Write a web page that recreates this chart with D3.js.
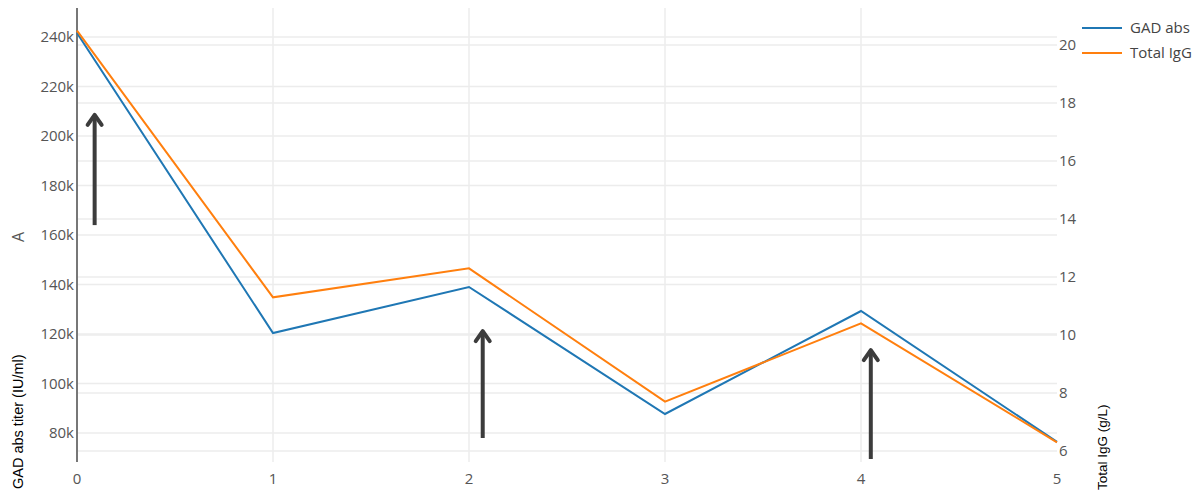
<!DOCTYPE html>
<html>
<head>
<meta charset="utf-8">
<script src="https://cdn.jsdelivr.net/npm/d3@7"></script>
<style>
  body { margin: 0; background: #fff; }
  text { font-family: "Open Sans", sans-serif; }
</style>
</head>
<body>
<svg id="chart" width="1203" height="493"></svg>
<script>
// Data
const timepoints = [0, 1, 2, 3, 4, 5];
const gadAbs = [241600, 120400, 139000, 87700, 129300, 76400];
const totalIgG = [20.5, 11.3, 12.3, 7.7, 10.4, 6.3];
const leftTicks = [80000, 100000, 120000, 140000, 160000, 180000, 200000, 220000, 240000];
const rightTicks = [6, 8, 10, 12, 14, 16, 18, 20];
const seriesNames = ['GAD abs', 'Total IgG'];
const seriesColors = ['#1f77b4', '#ff7f0e'];
// annotation arrows: x position, bottom / tip in left-axis units
const arrowX = [0.09, 2.07, 4.05];
const arrowFrom = [164000, 78000, 69500];
const arrowTo = [209300, 122000, 114300];

const svg = d3.select('#chart');
const plotLeft = 77, plotRight = 1057, plotTop = 8, plotBottom = 462;

const x = d3.scaleLinear().domain([0, 5]).range([plotLeft, plotRight]);
const yL = d3.scaleLinear().domain([68300, 251700]).range([plotBottom, plotTop]);
const yR = d3.scaleLinear().domain([5.62, 21.28]).range([plotBottom, plotTop]);

// Grid lines
const grid = svg.append('g').attr('stroke', '#ececec').attr('stroke-width', 1.5);
grid.selectAll('.gl').data(leftTicks).enter().append('line')
    .attr('x1', plotLeft).attr('x2', plotRight)
    .attr('y1', d => yL(d)).attr('y2', d => yL(d));
grid.selectAll('.gr').data(rightTicks).enter().append('line')
    .attr('x1', plotLeft).attr('x2', plotRight)
    .attr('y1', d => yR(d)).attr('y2', d => yR(d));
grid.selectAll('.gx').data(timepoints.slice(1, 5)).enter().append('line')
    .attr('x1', d => x(d)).attr('x2', d => x(d))
    .attr('y1', plotTop).attr('y2', plotBottom);

// Left axis line
svg.append('line')
    .attr('x1', plotLeft).attr('x2', plotLeft).attr('y1', plotTop).attr('y2', plotBottom)
    .attr('stroke', '#777').attr('stroke-width', 2);

// Tick labels
svg.append('g').selectAll('text').data(leftTicks).enter().append('text')
    .attr('x', plotLeft - 3).attr('y', d => yL(d)).attr('dy', '0.35em')
    .attr('text-anchor', 'end').attr('fill', '#555').attr('font-size', 15)
    .text(d => (d / 1000) + 'k');
svg.append('g').selectAll('text').data(rightTicks).enter().append('text')
    .attr('x', plotRight + 2).attr('y', d => yR(d)).attr('dy', '0.35em')
    .attr('text-anchor', 'start').attr('fill', '#555').attr('font-size', 15)
    .text(d => d);
svg.append('g').selectAll('text').data(timepoints).enter().append('text')
    .attr('x', d => x(d)).attr('y', 484)
    .attr('text-anchor', 'middle').attr('fill', '#555').attr('font-size', 15)
    .text(d => d);

// Lines
const lineL = d3.line().x((d, i) => x(timepoints[i])).y(d => yL(d));
const lineR = d3.line().x((d, i) => x(timepoints[i])).y(d => yR(d));
svg.append('path').datum(gadAbs).attr('d', lineL)
    .attr('fill', 'none').attr('stroke', seriesColors[0]).attr('stroke-width', 2);
svg.append('path').datum(totalIgG).attr('d', lineR)
    .attr('fill', 'none').attr('stroke', seriesColors[1]).attr('stroke-width', 2);

// Arrows
const arrows = svg.append('g').attr('stroke', '#3c3c3c').attr('fill', 'none')
    .attr('stroke-width', 4);
arrowX.forEach((ax, i) => {
    const px = x(ax), y0 = yL(arrowFrom[i]), y1 = yL(arrowTo[i]);
    arrows.append('line').attr('x1', px).attr('x2', px).attr('y1', y0).attr('y2', y1 + 2);
    arrows.append('path')
        .attr('d', `M${px - 7},${y1 + 12}L${px},${y1 + 2}L${px + 7},${y1 + 12}`)
        .attr('stroke-linejoin', 'round').attr('stroke-linecap', 'round');
});

// Axis titles
svg.append('text').attr('transform', 'translate(24,237) rotate(-90)')
    .attr('text-anchor', 'middle').attr('fill', '#555').attr('font-size', 16).text('A');
svg.append('text').attr('transform', 'translate(23,489) rotate(-90)')
    .attr('text-anchor', 'start').attr('fill', '#000').attr('font-size', 14.5)
    .style('font-family', '"Liberation Sans", sans-serif')
    .text('GAD abs titer (IU/ml)');
svg.append('text').attr('transform', 'translate(1107,490) rotate(-90)')
    .attr('text-anchor', 'start').attr('fill', '#000').attr('font-size', 13.5)
    .style('font-family', '"Liberation Sans", sans-serif')
    .text('Total IgG (g/L)');

// Legend
const legend = svg.append('g');
seriesNames.forEach((name, i) => {
    const ly = 28 + i * 25;
    legend.append('line').attr('x1', 1082).attr('x2', 1122).attr('y1', ly).attr('y2', ly)
        .attr('stroke', seriesColors[i]).attr('stroke-width', 2);
    legend.append('text').attr('x', 1130).attr('y', ly).attr('dy', '0.35em')
        .attr('fill', '#444').attr('font-size', 15).text(name);
});
</script>
</body>
</html>
